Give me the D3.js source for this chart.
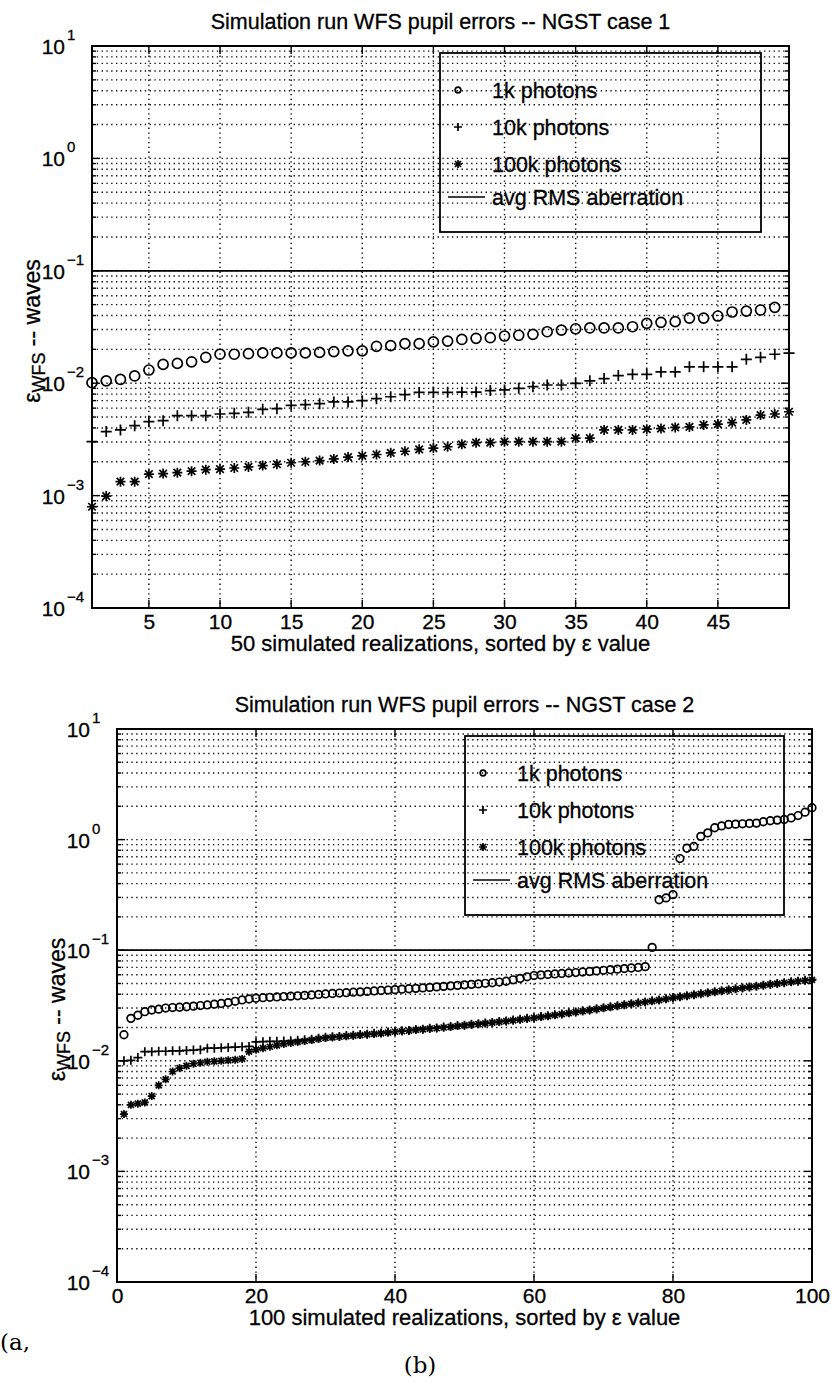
<!DOCTYPE html>
<html>
<head>
<meta charset="utf-8">
<script src="https://cdn.jsdelivr.net/npm/d3@7"></script>
<title>Simulation run WFS pupil errors</title>
<style type="text/css">
    body {
        margin: 0;
        background: #fff;
    }
    svg text {
        font-family: "Liberation Sans", Arial, Helvetica, sans-serif;
        fill: #000;
        stroke: #000;
        stroke-width: 0.3;
    }
    .grid line {
        stroke: #000;
        stroke-width: 1.4;
        stroke-dasharray: 1.3, 3.5;
    }
    .frame {
        fill: none;
        stroke: #000;
        stroke-width: 2;
    }
    .mark {
        fill: none;
        stroke: #000;
        stroke-width: 1.7;
    }
    svg text.serif {
        font-family: "DejaVu Serif", "Liberation Serif", serif;
        stroke-width: 0;
    }
</style>
</head>
<body>
<div id="chart"></div>
<script>

// ---- case 1: 50 realizations ----
var titleTop = "Simulation run WFS pupil errors -- NGST case 1";
var xlabelTop = "50 simulated realizations, sorted by \u03b5 value";
var xTicksTop = [5, 10, 15, 20, 25, 30, 35, 40, 45];

var top1k = [0.0101, 0.0105, 0.0108, 0.0116, 0.0131, 0.0147, 0.0150, 0.0155, 0.0170, 0.0181,
             0.0181, 0.0183, 0.0186, 0.0186, 0.0186, 0.0186, 0.0188, 0.0191, 0.0194, 0.0194,
             0.0213, 0.0216, 0.0225, 0.0225, 0.0233, 0.0237, 0.0245, 0.0251, 0.0254, 0.0263,
             0.0267, 0.0272, 0.0287, 0.0297, 0.0305, 0.0310, 0.0310, 0.0310, 0.0318, 0.0341,
             0.0348, 0.0353, 0.0380, 0.0380, 0.0396, 0.0430, 0.0438, 0.0448, 0.0473];

var top10k = [0.00302, 0.00371, 0.00384, 0.00419, 0.00455, 0.00464, 0.00514, 0.00514, 0.00514, 0.00532,
              0.00540, 0.00551, 0.00586, 0.00593, 0.00636, 0.00644, 0.00658, 0.00681, 0.00681, 0.00699,
              0.00728, 0.00758, 0.00791, 0.00828, 0.00830, 0.00830, 0.00832, 0.00834, 0.00859, 0.00871,
              0.00900, 0.00931, 0.00964, 0.00964, 0.00997, 0.0105, 0.0110, 0.0117, 0.0120, 0.0120,
              0.0126, 0.0126, 0.0140, 0.0140, 0.0140, 0.0140, 0.0163, 0.0170, 0.0181, 0.0185];

var top100k = [0.000796, 0.00099, 0.00133, 0.00133, 0.00155, 0.00157, 0.00160, 0.00165, 0.00170, 0.00172,
               0.00176, 0.00180, 0.00185, 0.00190, 0.00196, 0.00200, 0.00205, 0.00212, 0.00220, 0.00226,
               0.00232, 0.00240, 0.00248, 0.00258, 0.00265, 0.00272, 0.00286, 0.00296, 0.00296, 0.00302,
               0.00302, 0.00302, 0.00302, 0.00302, 0.00324, 0.00324, 0.00384, 0.00384, 0.00384, 0.00390,
               0.00395, 0.00404, 0.00408, 0.00425, 0.00433, 0.00446, 0.00471, 0.00521, 0.00532, 0.00557];

// ---- case 2: 100 realizations ----
var titleBottom = "Simulation run WFS pupil errors -- NGST case 2";
var xlabelBottom = "100 simulated realizations, sorted by \u03b5 value";
var xTicksBottom = [0, 20, 40, 60, 80, 100];

var bot1k = [0.0172, 0.0242, 0.0258, 0.0278, 0.0288, 0.0293, 0.0300, 0.0303, 0.0305, 0.0308,
             0.0312, 0.0316, 0.0320, 0.0325, 0.0330, 0.0336, 0.0345, 0.0355, 0.0362, 0.0368,
             0.0372, 0.0375, 0.0378, 0.0381, 0.0384, 0.0387, 0.0390, 0.0394, 0.0398, 0.0402,
             0.0406, 0.0410, 0.0413, 0.0417, 0.0420, 0.0424, 0.0428, 0.0432, 0.0436, 0.0440,
             0.0444, 0.0448, 0.0452, 0.0456, 0.0461, 0.0466, 0.0471, 0.0476, 0.0481, 0.0486,
             0.0491, 0.0496, 0.0502, 0.0508, 0.0515, 0.0524, 0.0540, 0.0556, 0.0575, 0.0590,
             0.0598, 0.0604, 0.0610, 0.0616, 0.0622, 0.0628, 0.0635, 0.0642, 0.0650, 0.0658,
             0.0666, 0.0674, 0.0682, 0.0690, 0.0698, 0.0710, 0.106, 0.286, 0.297, 0.318,
             0.674, 0.835, 0.866, 1.07, 1.15, 1.28, 1.33, 1.37, 1.38, 1.39,
             1.40, 1.41, 1.45, 1.48, 1.50, 1.52, 1.57, 1.65, 1.77, 1.94];

var bot10k = [0.0100, 0.0101, 0.0107, 0.0121, 0.0121, 0.0122, 0.0122, 0.0123, 0.0123, 0.0124,
              0.0125, 0.0126, 0.0130, 0.0130, 0.0131, 0.0132, 0.0133, 0.0134, 0.0135, 0.0148,
              0.0149, 0.0150, 0.0150, 0.0151, 0.0152, 0.0153, 0.0155, 0.0157, 0.0160, 0.0163,
              0.0165, 0.0166, 0.0169, 0.0170, 0.0173, 0.0174, 0.0177, 0.0178, 0.0182, 0.0184,
              0.0187, 0.0188, 0.0192, 0.0193, 0.0197, 0.0198, 0.0202, 0.0204, 0.0208, 0.0210,
              0.0214, 0.0216, 0.0220, 0.0222, 0.0227, 0.0229, 0.0234, 0.0237, 0.0242, 0.0245,
              0.0251, 0.0255, 0.0261, 0.0265, 0.0272, 0.0276, 0.0283, 0.0288, 0.0295, 0.0301,
              0.0308, 0.0314, 0.0322, 0.0328, 0.0335, 0.0341, 0.0349, 0.0355, 0.0364, 0.0371,
              0.0380, 0.0387, 0.0396, 0.0404, 0.0413, 0.0421, 0.0430, 0.0438, 0.0448, 0.0456,
              0.0465, 0.0473, 0.0483, 0.0491, 0.0501, 0.0509, 0.0518, 0.0525, 0.0534, 0.0542];

var bot100k = [0.0033, 0.0040, 0.0041, 0.0042, 0.0048, 0.0060, 0.0068, 0.0080, 0.0086, 0.0090,
               0.0094, 0.0096, 0.0098, 0.0099, 0.0100, 0.0101, 0.0102, 0.0104, 0.0121, 0.0126,
               0.0130, 0.0134, 0.0138, 0.0142, 0.0145, 0.0148, 0.0151, 0.0154, 0.0158, 0.0161,
               0.0163, 0.0165, 0.0167, 0.0169, 0.0171, 0.0173, 0.0175, 0.0177, 0.0180, 0.0183,
               0.0185, 0.0187, 0.0190, 0.0192, 0.0195, 0.0197, 0.0200, 0.0203, 0.0206, 0.0209,
               0.0212, 0.0215, 0.0218, 0.0221, 0.0225, 0.0228, 0.0232, 0.0236, 0.0240, 0.0244,
               0.0249, 0.0254, 0.0259, 0.0264, 0.0270, 0.0275, 0.0281, 0.0287, 0.0293, 0.0300,
               0.0306, 0.0313, 0.0320, 0.0327, 0.0333, 0.0340, 0.0347, 0.0354, 0.0362, 0.0370,
               0.0378, 0.0386, 0.0394, 0.0403, 0.0411, 0.0420, 0.0428, 0.0437, 0.0446, 0.0455,
               0.0463, 0.0472, 0.0481, 0.0490, 0.0499, 0.0508, 0.0516, 0.0524, 0.0532, 0.0540];

var avgRms = 0.1;
var yDomain = [1e-4, 10];
var legendLabels = ["1k photons", "10k photons", "100k photons", "avg RMS aberration"];

var svg = d3.select("#chart").append("svg")
        .attr("width", 835)
        .attr("height", 1389);

svg.append("rect").attr("width", 835).attr("height", 1389).attr("fill", "#fff");

var panels = [
    { title: titleTop, xlabel: xlabelTop, xTicks: xTicksTop, xDomain: [1, 50],
      left: 92, right: 789, top: 46, bottom: 608, r: 5, ms: 5.5,
      s1k: top1k, s10k: top10k, s100k: top100k,
      leg: { left: 440, right: 761, top: 53, bottom: 232 }, ylabelX: 40 },
    { title: titleBottom, xlabel: xlabelBottom, xTicks: xTicksBottom, xDomain: [0, 100],
      left: 117, right: 812, top: 729, bottom: 1282, r: 3.8, ms: 4.5,
      s1k: bot1k, s10k: bot10k, s100k: bot100k,
      leg: { left: 465, right: 784, top: 736, bottom: 915 }, ylabelX: 65 }
];

function plusPath(s) {
    return "M" + (-s) + ",0H" + s + "M0," + (-s) + "V" + s;
}
function starPath(s) {
    var d = s * 0.75;
    return plusPath(s) + "M" + (-d) + "," + (-d) + "L" + d + "," + d +
           "M" + (-d) + "," + d + "L" + d + "," + (-d);
}

function isDecade(v) {
    var e = Math.log10(v);
    return Math.abs(e - Math.round(e)) < 1e-9;
}

function drawPanel(p) {
    var x = d3.scaleLinear().domain(p.xDomain).range([p.left, p.right]);
    var y = d3.scaleLog().domain(yDomain).range([p.bottom, p.top]);
    var g = svg.append("g");

    var yTicks = y.ticks();
    var decades = yTicks.filter(isDecade);

    // dotted grid
    var grid = g.append("g").attr("class", "grid");
    grid.selectAll("line.h")
        .data(yTicks.filter(function (d) { return d > yDomain[0] && d < yDomain[1]; }))
        .enter().append("line")
        .attr("x1", p.left).attr("x2", p.right)
        .attr("y1", function (d) { return y(d); })
        .attr("y2", function (d) { return y(d); });
    grid.selectAll("line.v")
        .data(p.xTicks.filter(function (d) { return d > p.xDomain[0] && d < p.xDomain[1]; }))
        .enter().append("line")
        .attr("y1", p.top).attr("y2", p.bottom)
        .attr("x1", function (d) { return x(d); })
        .attr("x2", function (d) { return x(d); });

    // avg RMS line
    g.append("line")
        .attr("x1", x(p.xDomain[0])).attr("x2", x(p.xDomain[1]))
        .attr("y1", y(avgRms)).attr("y2", y(avgRms))
        .attr("stroke", "#000").attr("stroke-width", 1.7);

    // frame and ticks
    g.append("rect").attr("class", "frame")
        .attr("x", p.left).attr("y", p.top)
        .attr("width", p.right - p.left).attr("height", p.bottom - p.top);

    var ticks = g.append("g").attr("stroke", "#000").attr("stroke-width", 1.4);
    yTicks.forEach(function (d) {
        var len = isDecade(d) ? 8 : 4;
        ticks.append("line").attr("x1", p.left).attr("x2", p.left + len)
            .attr("y1", y(d)).attr("y2", y(d));
        ticks.append("line").attr("x1", p.right).attr("x2", p.right - len)
            .attr("y1", y(d)).attr("y2", y(d));
    });
    p.xTicks.forEach(function (d) {
        ticks.append("line").attr("x1", x(d)).attr("x2", x(d))
            .attr("y1", p.bottom).attr("y2", p.bottom - 8);
        ticks.append("line").attr("x1", x(d)).attr("x2", x(d))
            .attr("y1", p.top).attr("y2", p.top + 8);
    });

    // y tick labels 10^n
    var yl = g.append("g");
    yl.selectAll("text.base").data(decades).enter().append("text")
        .attr("x", p.left - 27)
        .attr("y", function (d) { return y(d) + 8; })
        .attr("text-anchor", "end")
        .attr("font-size", 21)
        .text("10");
    yl.selectAll("text.exp").data(decades).enter().append("text")
        .attr("x", p.left - 25)
        .attr("y", function (d) { return y(d) - 6; })
        .attr("font-size", 15)
        .text(function (d) {
            var e = Math.round(Math.log10(d));
            return e < 0 ? "\u2212" + (-e) : "" + e;
        });

    // x tick labels
    var xAxis = d3.axisBottom(x).tickValues(p.xTicks).tickSize(0).tickPadding(0);
    g.append("g")
        .attr("transform", "translate(0," + (p.bottom + 6) + ")")
        .call(xAxis)
        .attr("font-size", 21)
        .attr("font-family", null)
        .call(function (a) { a.select(".domain").remove(); });

    // titles
    g.append("text")
        .attr("x", (p.left + p.right) / 2).attr("y", p.top - 17)
        .attr("text-anchor", "middle").attr("font-size", 21.5)
        .text(p.title);
    g.append("text")
        .attr("x", (p.left + p.right) / 2).attr("y", p.bottom + 43)
        .attr("text-anchor", "middle").attr("font-size", 22)
        .text(p.xlabel);

    var yCenter = (p.top + p.bottom) / 2 + 4;
    var ylab = g.append("text")
        .attr("transform", "translate(" + p.ylabelX + "," + yCenter + ") rotate(-90)")
        .attr("text-anchor", "middle").attr("font-size", 23);
    ylab.append("tspan").text("\u03b5");
    ylab.append("tspan").attr("font-size", 18).attr("dy", 5).text("WFS");
    ylab.append("tspan").attr("dy", -5).text(" -- waves");

    // data
    var d1 = p.s1k.map(function (v, i) { return { i: i + 1, v: v }; });
    var d2 = p.s10k.map(function (v, i) { return { i: i + 1, v: v }; });
    var d3s = p.s100k.map(function (v, i) { return { i: i + 1, v: v }; });

    g.selectAll("circle.pt").data(d1).enter().append("circle")
        .attr("class", "mark")
        .attr("cx", function (d) { return x(d.i); })
        .attr("cy", function (d) { return y(d.v); })
        .attr("r", p.r);
    g.selectAll("path.plus").data(d2).enter().append("path")
        .attr("class", "mark")
        .attr("transform", function (d) { return "translate(" + x(d.i) + "," + y(d.v) + ")"; })
        .attr("d", plusPath(p.ms));
    g.selectAll("path.star").data(d3s).enter().append("path")
        .attr("class", "mark")
        .attr("transform", function (d) { return "translate(" + x(d.i) + "," + y(d.v) + ")"; })
        .attr("d", starPath(p.ms - 0.5));

    // legend
    var L = p.leg;
    var lg = g.append("g");
    lg.append("rect")
        .attr("x", L.left).attr("y", L.top)
        .attr("width", L.right - L.left).attr("height", L.bottom - L.top)
        .attr("fill", "none").attr("stroke", "#000").attr("stroke-width", 1.8);
    var rows = [L.top + 37, L.top + 74, L.top + 111, L.top + 144];
    var mx = L.left + 18;
    lg.append("circle").attr("class", "mark").attr("cx", mx).attr("cy", rows[0]).attr("r", 2.8);
    lg.append("path").attr("class", "mark").attr("transform", "translate(" + mx + "," + rows[1] + ")")
        .attr("d", plusPath(4));
    lg.append("path").attr("class", "mark").attr("transform", "translate(" + mx + "," + rows[2] + ")")
        .attr("d", starPath(4));
    lg.append("line").attr("x1", L.left + 8).attr("x2", L.left + 45)
        .attr("y1", rows[3]).attr("y2", rows[3])
        .attr("stroke", "#000").attr("stroke-width", 1.5);
    lg.selectAll("text").data(legendLabels).enter().append("text")
        .attr("x", L.left + 52)
        .attr("y", function (d, i) { return rows[i] + 8; })
        .attr("font-size", 21.5)
        .text(function (d) { return d; });
}

panels.forEach(drawPanel);

svg.append("text").attr("class", "serif")
    .attr("x", 0).attr("y", 1350).attr("font-size", 23)
    .text("(a,");
svg.append("text").attr("class", "serif")
    .attr("x", 420).attr("y", 1373).attr("text-anchor", "middle").attr("font-size", 23)
    .text("(b)");

</script>
</body>
</html>
